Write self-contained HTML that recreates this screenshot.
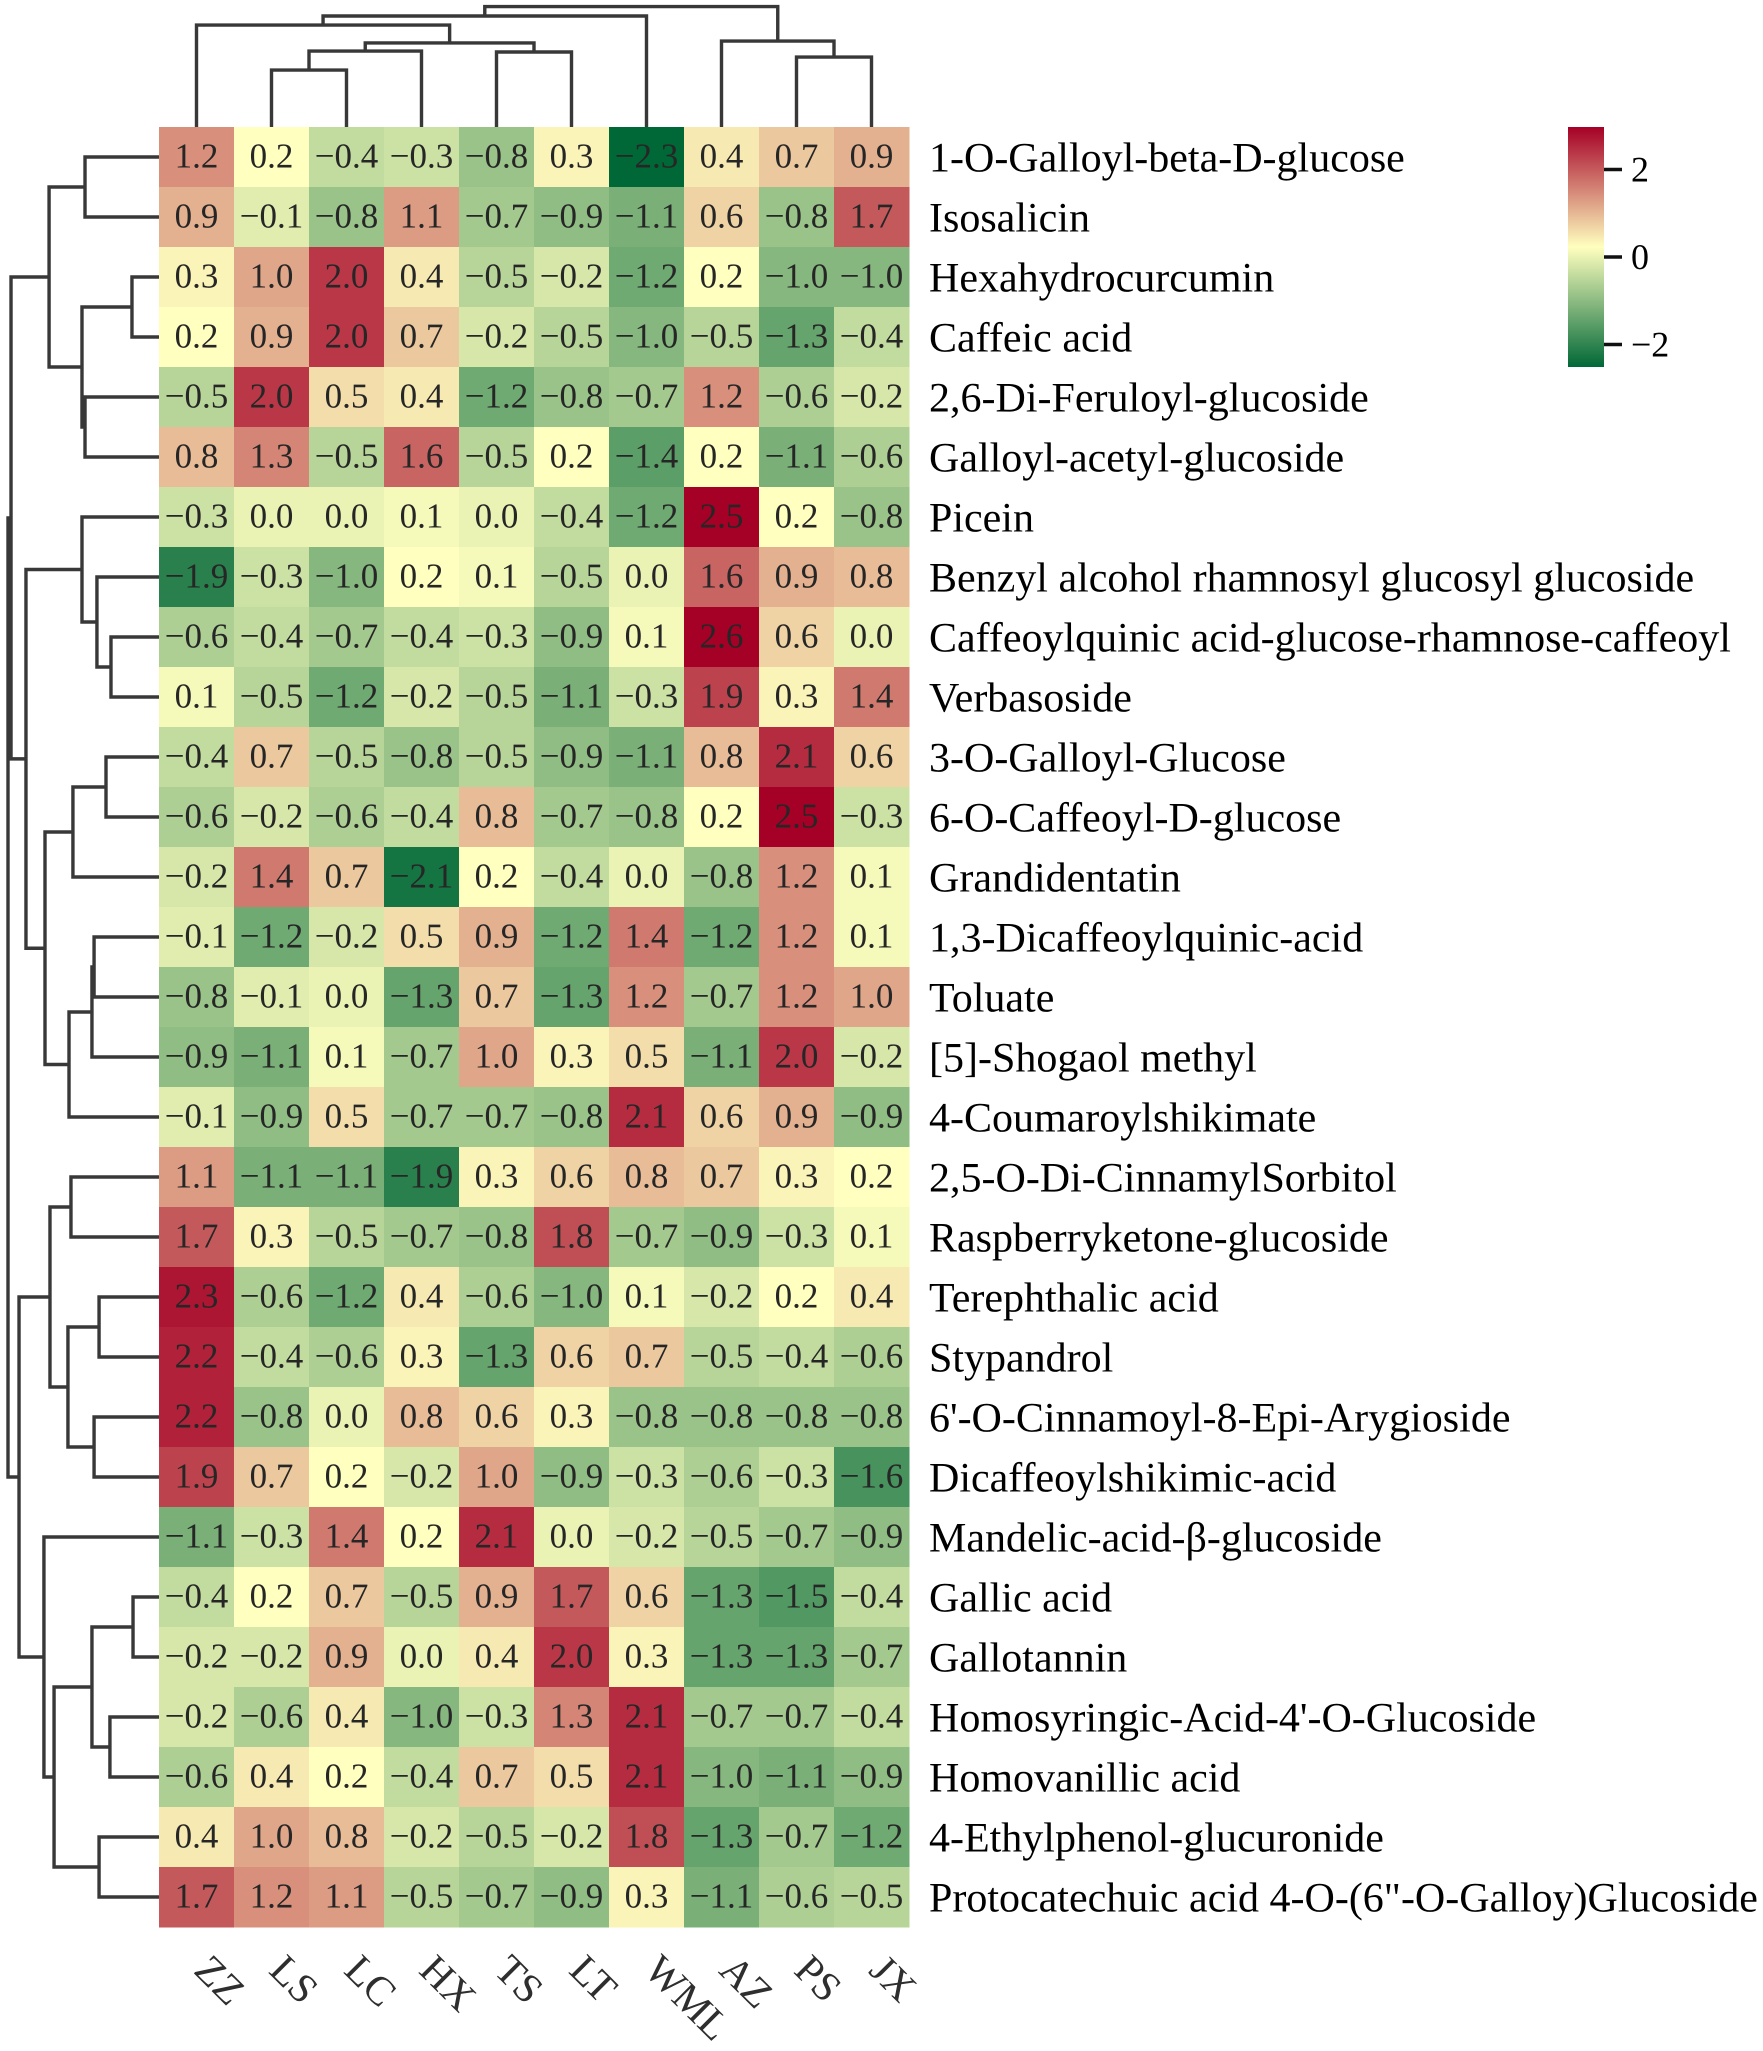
<!DOCTYPE html>
<html lang="en">
<head>
<meta charset="utf-8">
<title>Clustered metabolite heatmap</title>
<style>
html,body{margin:0;padding:0;background:#fff;}
svg{display:block;}
text{font-family:"Liberation Serif","Times New Roman",serif;text-rendering:geometricPrecision;}
</style>
</head>
<body>
<svg id="chart" xmlns="http://www.w3.org/2000/svg" width="1763" height="2051" viewBox="0 0 1763 2051">
  <defs>
    <linearGradient id="cbGrad" x1="0" y1="0" x2="0" y2="1">
      <stop offset="0" stop-color="#a50026"/>
      <stop offset="0.5" stop-color="#ffffbf"/>
      <stop offset="1" stop-color="#006837"/>
    </linearGradient>
  </defs>
</svg>
<script>
const columns = ["ZZ","LS","LC","HX","TS","LT","WML","AZ","PS","JX"];
const rows = [
"1-O-Galloyl-beta-D-glucose","Isosalicin","Hexahydrocurcumin","Caffeic acid","2,6-Di-Feruloyl-glucoside",
"Galloyl-acetyl-glucoside","Picein","Benzyl alcohol rhamnosyl glucosyl glucoside","Caffeoylquinic acid-glucose-rhamnose-caffeoyl","Verbasoside",
"3-O-Galloyl-Glucose","6-O-Caffeoyl-D-glucose","Grandidentatin","1,3-Dicaffeoylquinic-acid","Toluate",
"[5]-Shogaol methyl","4-Coumaroylshikimate","2,5-O-Di-CinnamylSorbitol","Raspberryketone-glucoside","Terephthalic acid",
"Stypandrol","6'-O-Cinnamoyl-8-Epi-Arygioside","Dicaffeoylshikimic-acid","Mandelic-acid-β-glucoside","Gallic acid",
"Gallotannin","Homosyringic-Acid-4'-O-Glucoside","Homovanillic acid","4-Ethylphenol-glucuronide","Protocatechuic acid 4-O-(6\"-O-Galloy)Glucoside"
];
const values = [
[1.2,0.2,-0.4,-0.3,-0.8,0.3,-2.3,0.4,0.7,0.9],
[0.9,-0.1,-0.8,1.1,-0.7,-0.9,-1.1,0.6,-0.8,1.7],
[0.3,1.0,2.0,0.4,-0.5,-0.2,-1.2,0.2,-1.0,-1.0],
[0.2,0.9,2.0,0.7,-0.2,-0.5,-1.0,-0.5,-1.3,-0.4],
[-0.5,2.0,0.5,0.4,-1.2,-0.8,-0.7,1.2,-0.6,-0.2],
[0.8,1.3,-0.5,1.6,-0.5,0.2,-1.4,0.2,-1.1,-0.6],
[-0.3,0.0,0.0,0.1,0.0,-0.4,-1.2,2.5,0.2,-0.8],
[-1.9,-0.3,-1.0,0.2,0.1,-0.5,0.0,1.6,0.9,0.8],
[-0.6,-0.4,-0.7,-0.4,-0.3,-0.9,0.1,2.6,0.6,0.0],
[0.1,-0.5,-1.2,-0.2,-0.5,-1.1,-0.3,1.9,0.3,1.4],
[-0.4,0.7,-0.5,-0.8,-0.5,-0.9,-1.1,0.8,2.1,0.6],
[-0.6,-0.2,-0.6,-0.4,0.8,-0.7,-0.8,0.2,2.5,-0.3],
[-0.2,1.4,0.7,-2.1,0.2,-0.4,0.0,-0.8,1.2,0.1],
[-0.1,-1.2,-0.2,0.5,0.9,-1.2,1.4,-1.2,1.2,0.1],
[-0.8,-0.1,0.0,-1.3,0.7,-1.3,1.2,-0.7,1.2,1.0],
[-0.9,-1.1,0.1,-0.7,1.0,0.3,0.5,-1.1,2.0,-0.2],
[-0.1,-0.9,0.5,-0.7,-0.7,-0.8,2.1,0.6,0.9,-0.9],
[1.1,-1.1,-1.1,-1.9,0.3,0.6,0.8,0.7,0.3,0.2],
[1.7,0.3,-0.5,-0.7,-0.8,1.8,-0.7,-0.9,-0.3,0.1],
[2.3,-0.6,-1.2,0.4,-0.6,-1.0,0.1,-0.2,0.2,0.4],
[2.2,-0.4,-0.6,0.3,-1.3,0.6,0.7,-0.5,-0.4,-0.6],
[2.2,-0.8,0.0,0.8,0.6,0.3,-0.8,-0.8,-0.8,-0.8],
[1.9,0.7,0.2,-0.2,1.0,-0.9,-0.3,-0.6,-0.3,-1.6],
[-1.1,-0.3,1.4,0.2,2.1,0.0,-0.2,-0.5,-0.7,-0.9],
[-0.4,0.2,0.7,-0.5,0.9,1.7,0.6,-1.3,-1.5,-0.4],
[-0.2,-0.2,0.9,0.0,0.4,2.0,0.3,-1.3,-1.3,-0.7],
[-0.2,-0.6,0.4,-1.0,-0.3,1.3,2.1,-0.7,-0.7,-0.4],
[-0.6,0.4,0.2,-0.4,0.7,0.5,2.1,-1.0,-1.1,-0.9],
[0.4,1.0,0.8,-0.2,-0.5,-0.2,1.8,-1.3,-0.7,-1.2],
[1.7,1.2,1.1,-0.5,-0.7,-0.9,0.3,-1.1,-0.6,-0.5]
];
/* linkage tables: [child a, child b, distance]; ids at or above the leaf count refer to earlier merges */
const rowLinkage = [
[0,1,49],[2,3,17.9],[4,5,49],[31,32,51],[30,33,72.8],[8,9,31.8],[7,35,41.1],[6,36,51],
[10,11,35.1],[38,12,57],[13,14,43],[40,15,44.4],[41,16,59.6],[39,42,75.5],[37,43,88.1],[34,44,98],
[17,18,58.3],[19,20,39.7],[21,22,43],[47,48,60.3],[46,49,72.2],
[24,25,17.2],[26,27,32.5],[51,52,44.4],[28,29,39.7],[53,54,69.5],[23,55,76.2],[50,56,92.7],[45,57,100]
];
const colLinkage = [
[1,2,47.3],[10,3,63.1],[4,5,62.3],[11,12,69.8],[0,13,84.7],[14,6,92.2],[8,9,58.1],[7,16,71.4],[15,17,100]
];
const colorbarTicks = [2,0,-2];
const colorMid = 0.2, colorMax = 2.5, colorMin = -2.3;

const NS = "http://www.w3.org/2000/svg";
const svg = document.getElementById("chart");
const left = 159, top0 = 127, cellW = 75, cellH = 60;
const cx = i => left + cellW * (i + 0.5);
const cy = i => top0 + cellH * (i + 0.5);
const rowDistX = d => left - d * 1.51;
const colDistY = d => top0 - d * 1.204;
const cbY = v => 257 - 43.75 * v;

function mk(tag, attrs, parent) {
  const el = document.createElementNS(NS, tag);
  for (const k in attrs) el.setAttribute(k, attrs[k]);
  (parent || svg).appendChild(el);
  return el;
}
function mix(a, b, t) { return a.map((c, i) => Math.round(c + (b[i] - c) * t)); }
function color(v) {
  const mid = [255,255,191], hi = [165,0,38], lo = [0,104,55];
  let c;
  if (v >= colorMid) c = mix(mid, hi, Math.min(1, (v - colorMid) / (colorMax - colorMid)));
  else c = mix(mid, lo, Math.min(1, (colorMid - v) / (colorMid - colorMin)));
  return "rgb(" + c.join(",") + ")";
}
function fmt(v) { return (v < 0 ? "\u2212" : "") + Math.abs(v).toFixed(1); }

/* heatmap cells */
const cellsG = mk("g", {});


values.forEach((row, r) => {
  row.forEach((v, c) => {
    const rect = mk("rect", {x: left + c * cellW, y: top0 + r * cellH, width: cellW + 0.5, height: cellH + 0.5, fill: color(v)}, cellsG);
    
    
  });
});
const annotG = mk("g", {});


values.forEach((row, r) => {
  row.forEach((v, c) => {
    const t = mk("text", {x: cx(c), y: cy(r) + 10.5, "font-size": 35, "text-anchor": "middle", fill: "#262626"}, annotG);
    t.textContent = fmt(v);
    
    
  });
});

/* row labels */
rows.forEach((name, r) => {
  const t = mk("text", {x: 929, y: cy(r) + 14.5, "font-size": 42, fill: "#000000"});
  t.textContent = name;
  
  
});

/* column labels */
columns.forEach((name, c) => {
  const x0 = cx(c) - 4, y0 = 1972;
  const t = mk("text", {x: 0, y: 0, "font-size": 41, fill: "#2e2e2e", transform: "translate(" + x0 + "," + y0 + ") rotate(45)"});
  t.textContent = name;
  
  
});

/* dendrograms */
function drawDendrogram(linkage, leafCount, leafPos, distPos, horizontal, groupName) {
  const g = mk("g", {fill: "none", stroke: "#383838", "stroke-width": 3.4});
  
  
  const nodes = [];
  for (let i = 0; i < leafCount; i++) nodes.push({pos: leafPos(i), d: 0});
  linkage.forEach(link => {
    const a = nodes[link[0]], b = nodes[link[1]], d = link[2];
    const da = a.d === 0 ? (horizontal ? left : top0) : distPos(a.d);
    const db = b.d === 0 ? (horizontal ? left : top0) : distPos(b.d);
    const dn = distPos(d);
    const pts = horizontal
      ? [[da, a.pos], [dn, a.pos], [dn, b.pos], [db, b.pos]]
      : [[a.pos, da], [a.pos, dn], [b.pos, dn], [b.pos, db]];
    const line = mk("polyline", {points: pts.map(p => p.join(",")).join(" ")}, g);
    
    
    nodes.push({pos: (a.pos + b.pos) / 2, d: d});
  });
}
drawDendrogram(rowLinkage, rows.length, cy, rowDistX, true, 'row-dendrogram');
drawDendrogram(colLinkage, columns.length, cx, colDistY, false, 'column-dendrogram');

/* colorbar */
const bar = mk("rect", {x: 1568, y: 127, width: 36, height: 240, fill: "url(#cbGrad)"});


colorbarTicks.forEach(v => {
  const tick = mk("line", {x1: 1604, x2: 1622, y1: cbY(v), y2: cbY(v), stroke: "#111", "stroke-width": 3.5});
  
  
  const t = mk("text", {x: 1631, y: cbY(v) + 12, "font-size": 36, fill: "#000000"});
  t.textContent = v < 0 ? "\u2212" + Math.abs(v) : String(v);
  
  
});
</script>
</body>
</html>
